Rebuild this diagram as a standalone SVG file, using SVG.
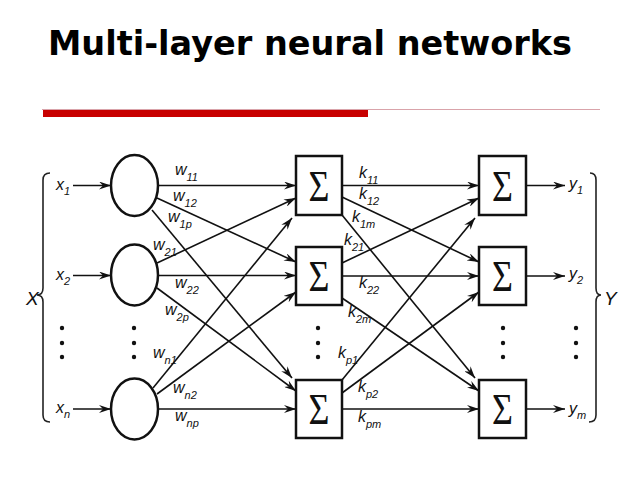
<svg xmlns="http://www.w3.org/2000/svg" width="640" height="480" viewBox="0 0 640 480">
<style>
.title{font-family:"DejaVu Sans",Verdana,sans-serif;font-weight:bold;font-size:34px;fill:#000}
.lbl{font-family:"Liberation Sans",Arial,sans-serif;font-style:italic;font-size:16px;fill:#111}
.sub{font-size:11px}
.big{font-family:"Liberation Sans",Arial,sans-serif;font-style:italic;font-size:19px;fill:#111}
.sig{font-family:"Liberation Serif","Times New Roman",serif;font-size:45px;fill:#111;text-anchor:middle}
.node{fill:#fff;stroke:#111;stroke-width:2.5}
.edge{stroke:#111;stroke-width:1.6;fill:none;marker-end:url(#ah)}
.brace{stroke:#222;stroke-width:1.6;fill:none}
.dot{fill:#111}
</style>
<defs>
<marker id="ah" viewBox="0 0 12 8" refX="12" refY="4" markerWidth="12" markerHeight="8" markerUnits="userSpaceOnUse" orient="auto">
<path d="M0,0 L12,4 L0,8 L4,4 z" fill="#111"/>
</marker>
</defs>
<rect width="640" height="480" fill="#fff"/>
<text class="title" x="48" y="55" textLength="524" lengthAdjust="spacingAndGlyphs">Multi-layer neural networks</text>
<line x1="42" y1="109.5" x2="600" y2="109.5" stroke="#d9a3aa" stroke-width="1"/>
<rect x="43" y="110" width="325" height="7" fill="#c80000"/>

<g id="connectors">
<line class="edge" x1="73" y1="185.5" x2="111" y2="185.5"/>
<line class="edge" x1="73" y1="275.5" x2="111" y2="275.5"/>
<line class="edge" x1="73" y1="409" x2="111" y2="409"/>

<line class="edge" x1="158" y1="185.5" x2="296" y2="185.5"/>
<line class="edge" x1="157" y1="198" x2="296" y2="262"/>
<line class="edge" x1="152" y1="210" x2="292" y2="378"/>
<line class="edge" x1="157" y1="263" x2="296" y2="198"/>
<line class="edge" x1="158" y1="275.5" x2="296" y2="275.5"/>
<line class="edge" x1="157" y1="288" x2="296" y2="391"/>
<line class="edge" x1="153" y1="388" x2="292" y2="218"/>
<line class="edge" x1="157" y1="394" x2="296" y2="292"/>
<line class="edge" x1="158" y1="409" x2="296" y2="409"/>

<line class="edge" x1="342" y1="185.5" x2="479" y2="185.5"/>
<line class="edge" x1="342" y1="197" x2="479" y2="262"/>
<line class="edge" x1="342" y1="215" x2="475" y2="378"/>
<line class="edge" x1="342" y1="263" x2="479" y2="198"/>
<line class="edge" x1="342" y1="276" x2="479" y2="276"/>
<line class="edge" x1="342" y1="298" x2="479" y2="391"/>
<line class="edge" x1="342" y1="380" x2="475" y2="218"/>
<line class="edge" x1="342" y1="393" x2="479" y2="292"/>
<line class="edge" x1="342" y1="409" x2="479" y2="409"/>

<line class="edge" x1="526" y1="185.5" x2="565" y2="185.5"/>
<line class="edge" x1="526" y1="276" x2="565" y2="276"/>
<line class="edge" x1="526" y1="409" x2="565" y2="409"/>
</g>

<g id="n-in1"><ellipse class="node" cx="134.5" cy="185.5" rx="23.5" ry="30.5"/></g>
<g id="n-in2"><ellipse class="node" cx="134.5" cy="275" rx="23.5" ry="30.5"/></g>
<g id="n-inn"><ellipse class="node" cx="134.5" cy="409" rx="23.5" ry="30.5"/></g>

<g id="n-h1"><rect class="node" x="296" y="156" width="46" height="59"/><text class="sig" transform="translate(319,201) scale(0.8,1)">Σ</text></g>
<g id="n-h2"><rect class="node" x="296" y="247" width="46" height="58"/><text class="sig" transform="translate(319,291) scale(0.8,1)">Σ</text></g>
<g id="n-hp"><rect class="node" x="296" y="380" width="46" height="58"/><text class="sig" transform="translate(319,424) scale(0.8,1)">Σ</text></g>

<g id="n-o1"><rect class="node" x="479" y="156" width="47" height="59"/><text class="sig" transform="translate(502.5,201) scale(0.8,1)">Σ</text></g>
<g id="n-o2"><rect class="node" x="479" y="247" width="47" height="58"/><text class="sig" transform="translate(502.5,291) scale(0.8,1)">Σ</text></g>
<g id="n-om"><rect class="node" x="479" y="380" width="47" height="58"/><text class="sig" transform="translate(502.5,424) scale(0.8,1)">Σ</text></g>

<g id="braces">
<path class="brace" d="M50,173 Q43,173 43,180 L43,288 Q43,295 37,295 Q43,295 43,302 L43,415 Q43,422 50,422"/>
<path class="brace" d="M590,173 Q596,173 596,180 L596,288 Q596,295 601,295 Q596,295 596,302 L596,415 Q596,422 589,422"/>
</g>

<g id="dots">
<circle class="dot" cx="62" cy="328" r="2.2"/><circle class="dot" cx="62" cy="343" r="2.2"/><circle class="dot" cx="62" cy="357" r="2.2"/>
<circle class="dot" cx="134" cy="328" r="2.2"/><circle class="dot" cx="134" cy="343" r="2.2"/><circle class="dot" cx="134" cy="357" r="2.2"/>
<circle class="dot" cx="318" cy="328" r="2.2"/><circle class="dot" cx="318" cy="343" r="2.2"/><circle class="dot" cx="318" cy="357" r="2.2"/>
<circle class="dot" cx="503" cy="328" r="2.2"/><circle class="dot" cx="503" cy="343" r="2.2"/><circle class="dot" cx="503" cy="357" r="2.2"/>
<circle class="dot" cx="576" cy="328" r="2.2"/><circle class="dot" cx="576" cy="343" r="2.2"/><circle class="dot" cx="576" cy="357" r="2.2"/>
</g>

<g id="labels">
<text class="big" x="26" y="305">X</text>
<text class="big" x="604" y="305">Y</text>
<text class="lbl" x="56" y="190">x<tspan class="sub" dy="5">1</tspan></text>
<text class="lbl" x="56" y="280">x<tspan class="sub" dy="5">2</tspan></text>
<text class="lbl" x="56" y="413">x<tspan class="sub" dy="5">n</tspan></text>
<text class="lbl" x="569" y="189">y<tspan class="sub" dy="5">1</tspan></text>
<text class="lbl" x="569" y="279">y<tspan class="sub" dy="5">2</tspan></text>
<text class="lbl" x="569" y="414">y<tspan class="sub" dy="5">m</tspan></text>

<text class="lbl" x="175" y="175">w<tspan class="sub" dy="6">11</tspan></text>
<text class="lbl" x="173" y="201">w<tspan class="sub" dy="6">12</tspan></text>
<text class="lbl" x="168" y="222">w<tspan class="sub" dy="6">1p</tspan></text>
<text class="lbl" x="153" y="250">w<tspan class="sub" dy="6">21</tspan></text>
<text class="lbl" x="175" y="288">w<tspan class="sub" dy="6">22</tspan></text>
<text class="lbl" x="165" y="315">w<tspan class="sub" dy="6">2p</tspan></text>
<text class="lbl" x="153" y="358">w<tspan class="sub" dy="6">n1</tspan></text>
<text class="lbl" x="173" y="393">w<tspan class="sub" dy="6">n2</tspan></text>
<text class="lbl" x="175" y="421">w<tspan class="sub" dy="6">np</tspan></text>

<text class="lbl" x="359" y="178">k<tspan class="sub" dy="6">11</tspan></text>
<text class="lbl" x="359" y="199">k<tspan class="sub" dy="6">12</tspan></text>
<text class="lbl" x="352" y="222">k<tspan class="sub" dy="6">1m</tspan></text>
<text class="lbl" x="344" y="245">k<tspan class="sub" dy="6">21</tspan></text>
<text class="lbl" x="359" y="288">k<tspan class="sub" dy="6">22</tspan></text>
<text class="lbl" x="348" y="317">k<tspan class="sub" dy="6">2m</tspan></text>
<text class="lbl" x="338" y="358">k<tspan class="sub" dy="6">p1</tspan></text>
<text class="lbl" x="358" y="392">k<tspan class="sub" dy="6">p2</tspan></text>
<text class="lbl" x="358" y="422">k<tspan class="sub" dy="6">pm</tspan></text>
</g>
</svg>
